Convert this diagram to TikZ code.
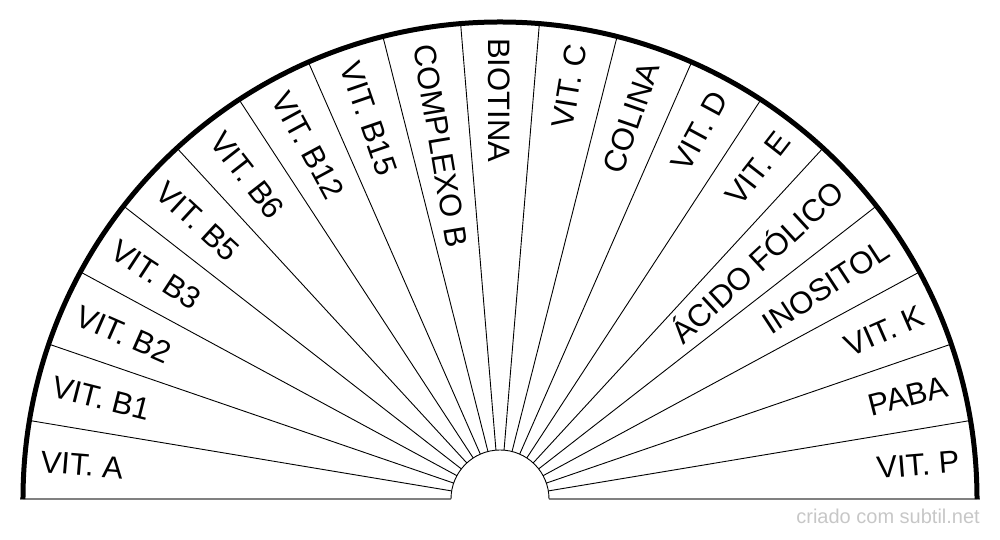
\documentclass[tikz,border=0pt]{standalone}
\usepackage{fontspec}
\setmainfont{Liberation Sans}
\usetikzlibrary{positioning}
\definecolor{mark-gray}{rgb}{0.78, 0.78, 0.78}
\definecolor{base-gray}{rgb}{0.5, 0.5, 0.5}

\begin{document}
\begin{tikzpicture}[x=1pt, y=1pt]
				\tikzset{spoke/.style={black, line width=0.9pt}}
				\tikzset{lbl/.style={font=\fontsize{31}{31}\selectfont, inner sep=0pt, text height=22.2pt, text depth=0pt}}
				\useasboundingbox (-500,-41) rectangle (500,499);
				\coordinate (hub) at (0,0);
				% baseline and sector borders
				\draw[base-gray, line width=2pt] (-479.5,0) -- (-49,0);
				\draw[base-gray, line width=2pt] (49,0) -- (479.5,0);
				\foreach \j in {1,...,18}
					\draw[spoke] ({180-\j*180/19}:49) -- ({180-\j*180/19}:477);
				\draw[spoke] (-49,0) arc[start angle=180, end angle=0, radius=49pt];
				\draw[line width=5pt] (-477,0) arc[start angle=180, end angle=0, radius=477pt];
				% sector labels
				\foreach \lab [count=\i] in {VIT. A, VIT. B1, VIT. B2, VIT. B3, VIT. B5, VIT. B6, VIT. B12, VIT. B15, COMPLEXO B, BIOTINA, VIT. C, COLINA, VIT. D, VIT. E, ÁCIDO FÓLICO, INOSITOL, VIT. K, PABA, VIT. P} {
					\pgfmathsetmacro\ang{180-(\i-0.5)*180/19}
					\ifdim\ang pt>89.5pt
						\node[lbl, anchor=west, rotate=\ang-180] (v\i) at (\ang:461) {\lab};
					\else
						\node[lbl, anchor=east, rotate=\ang] (v\i) at (\ang:461) {\lab};
					\fi
				}
				\node[anchor=base east, text=mark-gray, font=\fontsize{20}{20}\selectfont, inner sep=0pt] (credit) at (480,-25) {criado com subtil.net};
			\end{tikzpicture}
\end{document}
